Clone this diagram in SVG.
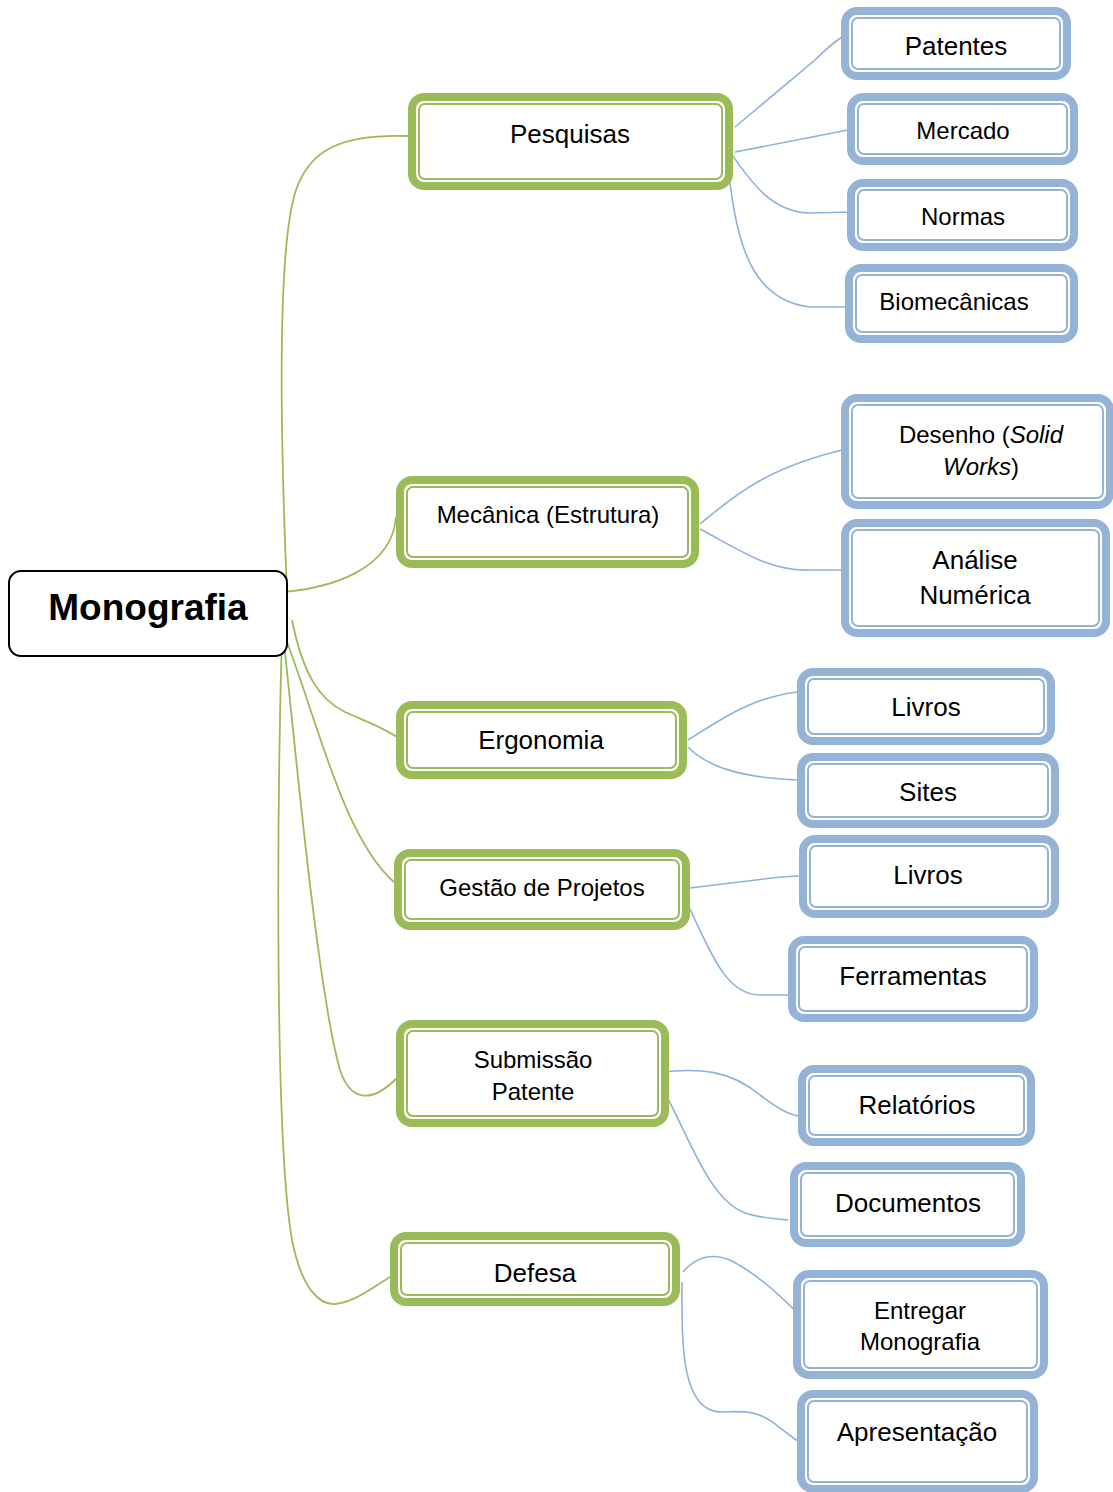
<svg xmlns="http://www.w3.org/2000/svg" width="1113" height="1492" viewBox="0 0 1113 1492">
<style>
  text { font-family: "Liberation Sans", Arial, sans-serif; fill: #000; text-anchor: middle; }
  .t26 { font-size: 26px; }
  .t24 { font-size: 24px; }
  .go { fill: #fff; stroke: #9BBB59; stroke-width: 8; }
  .gi { fill: none; stroke: #9BBB59; stroke-width: 2; }
  .bo { fill: #fff; stroke: #95B3D7; stroke-width: 8; }
  .bi { fill: none; stroke: #95B3D7; stroke-width: 2; }
  .cg { fill: none; stroke: #9BBB59; stroke-width: 1.8; }
  .cb { fill: none; stroke: #8EB1DC; stroke-width: 1.6; }
</style>
<rect width="1113" height="1492" fill="#fff"/>
<g id="connectors">
  <path class="cg" d="M 287 592 C 281 450, 276 250, 296 190 C 310 150, 340 134, 408 136"/>
  <path class="cg" d="M 283 592 C 330 588, 392 570, 396 517"/>
  <path class="cg" d="M 292 620 C 303 675, 320 700, 345 712 C 365 721, 382 727, 397 737"/>
  <path class="cg" d="M 287 642 C 320 730, 345 840, 395 883"/>
  <path class="cg" d="M 283 632 C 300 800, 320 1000, 340 1070 C 350 1100, 370 1105, 397 1078"/>
  <path class="cg" d="M 282 632 C 276 850, 276 1150, 292 1240 C 302 1290, 320 1305, 335 1304 C 355 1302, 372 1288, 390 1277"/>
  <path class="cb" d="M 735 127 L 815 60 Q 830 45 842 37"/>
  <path class="cb" d="M 735 152 L 848 130 L 857 132"/>
  <path class="cb" d="M 730 152 C 750 180, 770 212, 810 213 L 853 212"/>
  <path class="cb" d="M 727 158 C 735 230, 745 300, 810 307 L 855 307"/>
  <path class="cb" d="M 700 524 C 730 500, 760 470, 842 450"/>
  <path class="cb" d="M 700 529 C 740 550, 770 572, 810 570 L 842 570"/>
  <path class="cb" d="M 688 740 C 720 720, 750 698, 797 692"/>
  <path class="cb" d="M 688 747 C 710 770, 750 778, 797 780"/>
  <path class="cb" d="M 690 888 L 780 877 L 799 876"/>
  <path class="cb" d="M 688 905 C 710 950, 725 995, 760 995 L 790 995"/>
  <path class="cb" d="M 660 1072 C 700 1068, 730 1070, 760 1095 C 780 1110, 790 1116, 806 1117"/>
  <path class="cb" d="M 667 1097 C 690 1140, 710 1200, 745 1213 C 760 1218, 775 1219, 788 1220"/>
  <path class="cb" d="M 683 1272 C 695 1258, 710 1252, 730 1260 C 760 1275, 785 1300, 802 1318"/>
  <path class="cb" d="M 682 1282 C 682 1340, 680 1410, 720 1412 C 745 1411, 760 1410, 780 1428 L 807 1448"/>
</g>
<g id="monografia">
  <rect x="9" y="571" width="278" height="85" rx="12" fill="#fff" stroke="#000" stroke-width="2"/>
  <text x="148" y="620" style="font-size:37px;font-weight:bold">Monografia</text>
</g>
<g id="pesquisas">
  <rect class="go" x="412" y="97" width="317" height="89" rx="12"/>
  <rect class="gi" x="419" y="104" width="303" height="75" rx="6"/>
  <text class="t26" x="570" y="143">Pesquisas</text>
</g>
<g id="mecanica">
  <rect class="go" x="400" y="480" width="295" height="84" rx="12"/>
  <rect class="gi" x="407" y="487" width="281" height="70" rx="6"/>
  <text class="t24" x="548" y="523">Mecânica (Estrutura)</text>
</g>
<g id="ergonomia">
  <rect class="go" x="400" y="705" width="283" height="70" rx="12"/>
  <rect class="gi" x="407" y="712" width="269" height="56" rx="6"/>
  <text class="t26" x="541" y="749">Ergonomia</text>
</g>
<g id="gestao">
  <rect class="go" x="398" y="853" width="288" height="73" rx="12"/>
  <rect class="gi" x="405" y="860" width="274" height="59" rx="6"/>
  <text class="t24" x="542" y="896">Gestão de Projetos</text>
</g>
<g id="submissao">
  <rect class="go" x="400" y="1024" width="265" height="99" rx="12"/>
  <rect class="gi" x="407" y="1031" width="251" height="85" rx="6"/>
  <text class="t24" x="533" y="1068">Submissão</text>
  <text class="t24" x="533" y="1100">Patente</text>
</g>
<g id="defesa">
  <rect class="go" x="394" y="1236" width="282" height="66" rx="12"/>
  <rect class="gi" x="401" y="1243" width="268" height="52" rx="6"/>
  <text class="t26" x="535" y="1282">Defesa</text>
</g>
<g id="patentes">
  <rect class="bo" x="845" y="11" width="222" height="65" rx="12"/>
  <rect class="bi" x="852" y="18" width="208" height="51" rx="6"/>
  <text class="t26" x="956" y="55">Patentes</text>
</g>
<g id="mercado">
  <rect class="bo" x="851" y="97" width="223" height="64" rx="12"/>
  <rect class="bi" x="858" y="104" width="209" height="50" rx="6"/>
  <text class="t24" x="963" y="139">Mercado</text>
</g>
<g id="normas">
  <rect class="bo" x="851" y="183" width="223" height="64" rx="12"/>
  <rect class="bi" x="858" y="190" width="209" height="50" rx="6"/>
  <text class="t24" x="963" y="225">Normas</text>
</g>
<g id="biomecanicas">
  <rect class="bo" x="849" y="268" width="225" height="71" rx="12"/>
  <rect class="bi" x="856" y="275" width="211" height="57" rx="6"/>
  <text class="t24" x="954" y="310">Biomecânicas</text>
</g>
<g id="desenho">
  <rect class="bo" x="845" y="398" width="265" height="107" rx="12"/>
  <rect class="bi" x="852" y="405" width="251" height="93" rx="6"/>
  <text class="t24" x="981" y="443">Desenho (<tspan font-style="italic">Solid</tspan></text>
  <text class="t24" x="981" y="475"><tspan font-style="italic">Works</tspan>)</text>
</g>
<g id="analise">
  <rect class="bo" x="845" y="523" width="261" height="110" rx="12"/>
  <rect class="bi" x="852" y="530" width="247" height="96" rx="6"/>
  <text class="t26" x="975" y="569">Análise</text>
  <text class="t26" x="975" y="604">Numérica</text>
</g>
<g id="livros1">
  <rect class="bo" x="801" y="672" width="250" height="69" rx="12"/>
  <rect class="bi" x="808" y="679" width="236" height="55" rx="6"/>
  <text class="t26" x="926" y="716">Livros</text>
</g>
<g id="sites">
  <rect class="bo" x="801" y="757" width="254" height="67" rx="12"/>
  <rect class="bi" x="808" y="764" width="240" height="53" rx="6"/>
  <text class="t26" x="928" y="801">Sites</text>
</g>
<g id="livros2">
  <rect class="bo" x="803" y="839" width="252" height="75" rx="12"/>
  <rect class="bi" x="810" y="846" width="238" height="61" rx="6"/>
  <text class="t26" x="928" y="884">Livros</text>
</g>
<g id="ferramentas">
  <rect class="bo" x="792" y="940" width="242" height="78" rx="12"/>
  <rect class="bi" x="799" y="947" width="228" height="64" rx="6"/>
  <text class="t26" x="913" y="985">Ferramentas</text>
</g>
<g id="relatorios">
  <rect class="bo" x="802" y="1069" width="229" height="73" rx="12"/>
  <rect class="bi" x="809" y="1076" width="215" height="59" rx="6"/>
  <text class="t26" x="917" y="1114">Relatórios</text>
</g>
<g id="documentos">
  <rect class="bo" x="794" y="1166" width="227" height="77" rx="12"/>
  <rect class="bi" x="801" y="1173" width="213" height="63" rx="6"/>
  <text class="t26" x="908" y="1212">Documentos</text>
</g>
<g id="entregar">
  <rect class="bo" x="797" y="1274" width="247" height="101" rx="12"/>
  <rect class="bi" x="804" y="1281" width="233" height="87" rx="6"/>
  <text class="t24" x="920" y="1319">Entregar</text>
  <text class="t24" x="920" y="1350">Monografia</text>
</g>
<g id="apresentacao">
  <rect class="bo" x="801" y="1394" width="233" height="95" rx="12"/>
  <rect class="bi" x="808" y="1401" width="219" height="81" rx="6"/>
  <text class="t26" x="917" y="1441">Apresentação</text>
</g>
</svg>
